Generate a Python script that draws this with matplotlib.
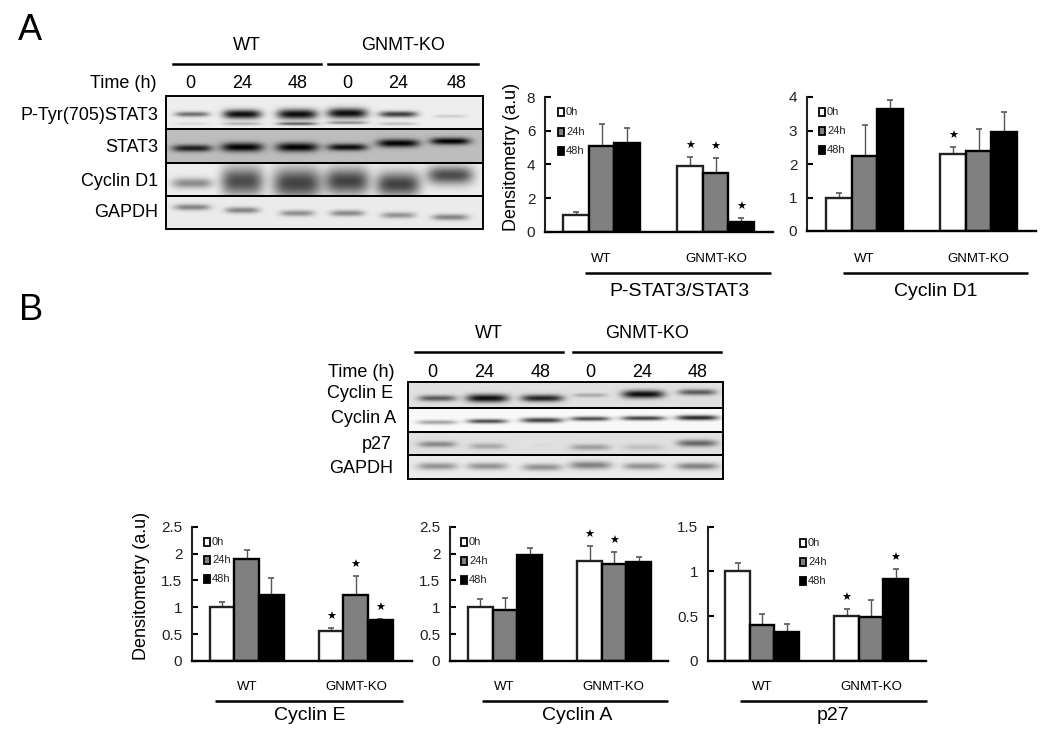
#!/usr/bin/env python3
"""Densitometry figure: western blots and bar panels, WT vs GNMT-KO."""
import numpy as np
import matplotlib

matplotlib.use("Agg")
import matplotlib.pyplot as plt
from matplotlib.patches import Rectangle

plt.rcParams["font.family"] = ["Liberation Sans", "DejaVu Sans"]

# bar data, order is 0h, 24h, 48h
stat3_wt = [1.0, 5.1, 5.3]
stat3_wt_err = [0.2, 1.3, 0.9]
stat3_ko = [3.9, 3.5, 0.55]
stat3_ko_err = [0.55, 0.9, 0.25]
stat3_stars = [1, 1, 1]

d1_wt = [1.0, 2.25, 3.65]
d1_wt_err = [0.13, 0.9, 0.25]
d1_ko = [2.3, 2.4, 2.97]
d1_ko_err = [0.2, 0.65, 0.58]
d1_stars = [1, 0, 0]

cyce_wt = [1.0, 1.9, 1.22]
cyce_wt_err = [0.1, 0.17, 0.33]
cyce_ko = [0.55, 1.23, 0.76]
cyce_ko_err = [0.07, 0.35, 0.02]
cyce_stars = [1, 1, 1]

cyca_wt = [1.0, 0.95, 1.98]
cyca_wt_err = [0.15, 0.23, 0.12]
cyca_ko = [1.86, 1.8, 1.84]
cyca_ko_err = [0.28, 0.23, 0.1]
cyca_stars = [1, 1, 0]

p27_wt = [1.0, 0.4, 0.32]
p27_wt_err = [0.1, 0.12, 0.09]
p27_ko = [0.5, 0.49, 0.92]
p27_ko_err = [0.08, 0.19, 0.11]
p27_stars = [1, 0, 1]

times = ["0", "24", "48"]
legend_labels = ["0h", "24h", "48h"]
bar_fills = ["white", "#808080", "black"]
bar_edges = ["#222222", "black", "black"]

# blot bands: darkness, thickness, and y of each of the six lanes
a_lanes = [192, 242, 297, 347, 398, 450]
a_halfw = [[17, 19, 20, 20, 19, 16], [20, 21, 21, 20, 21, 20],
           [20, 21, 24, 22, 22, 23], [18, 17, 17, 17, 17, 18]]
a_dark = [[0.55, 0.95, 0.95, 0.95, 0.75, 0.15],
          [0.85, 1.0, 1.0, 0.95, 1.0, 1.0],
          [0.42, 0.68, 0.72, 0.72, 0.72, 0.68],
          [0.45, 0.45, 0.4, 0.42, 0.38, 0.45]]
a_thick = [[2.5, 4.5, 5, 5, 3, 1.5], [3.5, 4.5, 4.5, 3.5, 4, 3.5],
           [5, 14, 15, 13, 12, 9], [3, 3, 3, 3, 3, 3]]
a_y = [[114, 114, 114, 113, 114, 116], [148, 147, 147, 147, 143, 141],
       [183, 181, 183, 181, 184, 175], [207, 210, 213, 213, 215, 217]]
a_bg = [0.93, 0.74, 0.93, 0.92]
a_rows = [96, 129, 163, 196, 229]
a_second_dark = [0.08, 0.25, 0.6, 0.4, 0.2, 0.0]

b_lanes = [437, 487, 542, 590, 643, 697]
b_halfw = [[19, 21, 21, 17, 21, 19], [20, 20, 21, 20, 22, 21],
           [19, 18, 10, 20, 20, 20], [20, 20, 20, 21, 20, 21]]
b_dark = [[0.6, 0.95, 0.85, 0.25, 0.95, 0.6],
          [0.35, 0.7, 0.75, 0.7, 0.75, 0.85],
          [0.4, 0.25, 0.03, 0.3, 0.15, 0.55],
          [0.38, 0.38, 0.38, 0.45, 0.38, 0.45]]
b_thick = [[3, 4, 3.5, 2, 4, 3], [2.2, 2.2, 2.5, 2.2, 2.2, 2.5],
           [3, 3, 2, 3, 3, 3.5], [3.5, 3.5, 3.5, 4, 3.5, 3.5]]
b_y = [[398, 398, 398, 395, 394, 392], [422, 421, 420, 418.5, 418, 417.5],
       [444, 446, 445, 447, 447, 443], [466, 466, 467, 465, 466, 466]]
b_bg = [0.88, 0.98, 0.88, 0.92]
b_rows = [382, 408, 432, 455, 479]


def draw_chart(fig, left, right, y0, ytop, ymax, yticks, ylabels, wt, wt_err, ko, ko_err, stars,
               wt_x, ko_x, bar_w):
    w, h = fig.get_size_inches() * fig.dpi
    ax = fig.add_axes([left / w, 1 - y0 / h, (right - left) / w, (y0 - ytop) / h])
    ax.patch.set_alpha(0)
    ax.set_xlim(left, right)
    ax.set_ylim(0, ymax)
    for start, vals, errs in [(wt_x, wt, wt_err), (ko_x, ko, ko_err)]:
        for i in range(3):
            x = start + i * bar_w
            ax.errorbar(x, vals[i], yerr=[[0], [errs[i]]], color="#555555", lw=1.0,
                        capsize=2.5, capthick=1.2, zorder=1)
            ax.bar(x, vals[i], width=bar_w, color=bar_fills[i], edgecolor=bar_edges[i], lw=1.7, zorder=2)
    for i in range(3):
        if stars[i]:
            ax.annotate("\u2605", (ko_x + i * bar_w, ko[i] + ko_err[i]), xytext=(0, 8), textcoords="offset points",
                        ha="center", va="center", fontsize=8, color="black", family=["DejaVu Sans"])
    ax.spines["top"].set_visible(False)
    ax.spines["right"].set_visible(False)
    ax.spines["left"].set_linewidth(1.5)
    ax.spines["bottom"].set_linewidth(1.7)
    ax.spines["left"].set_color("#222222")
    ax.set_xticks([])
    ax.set_yticks(yticks)
    ax.set_yticklabels(ylabels, fontsize=11, color="#222222")
    ax.tick_params(axis="y", direction="in", length=4, width=1.5, pad=7)
    return ax


def draw_labels(over, legend_x, legend_ys, wt_c, ko_c, label_y, line_x0, line_x1, line_y, title, title_x, title_y):
    for i in range(3):
        over.add_patch(Rectangle((legend_x - 2.7, legend_ys[i] - 4), 5.4, 8, facecolor=bar_fills[i],
                                 edgecolor="black", lw=1.3))
        over.text(legend_x + 5, legend_ys[i], legend_labels[i], fontsize=8, va="center", color="#222222")
    over.text(wt_c, label_y, "WT", fontsize=9.5, ha="center", va="center")
    over.text(ko_c, label_y, "GNMT-KO", fontsize=9.5, ha="center", va="center")
    over.plot([line_x0, line_x1], [line_y, line_y], color="black", lw=1.8, solid_capstyle="butt")
    over.text(title_x, title_y, title, fontsize=14, ha="center", va="center")


def band_image(x0, x1, y0, y1, lanes, halfw, dark, thick, ys, bg, second=None):
    yy, xx = np.mgrid[y0:y1:0.5, x0:x1:0.5]
    img = np.full(xx.shape, float(bg))
    absorb = np.zeros(xx.shape)
    for i, lane in enumerate(lanes):
        across = np.exp(-((xx - lane) / halfw[i]) ** 4)
        absorb += dark[i] * across * np.exp(-((yy - ys[i]) / thick[i]) ** 2)
        if second is not None:
            absorb += second[i] * across * np.exp(-((yy - ys[i] - 9.5) / 1.5) ** 2)
    return img * (1 - np.clip(absorb, 0, 1))


def draw_blot(over, x0, x1, rows, lanes, halfw, dark, thick, ys, bg, second=None):
    for r in range(len(rows) - 1):
        extra = second if r == 0 else None
        img = band_image(x0, x1, rows[r], rows[r + 1], lanes, halfw[r], dark[r], thick[r], ys[r], bg[r], extra)
        over.imshow(img, cmap="gray", vmin=0, vmax=1, extent=[x0, x1, rows[r + 1], rows[r]],
                    aspect="auto", interpolation="bilinear", zorder=1)
        over.add_patch(Rectangle((x0, rows[r]), x1 - x0, rows[r + 1] - rows[r], fill=False,
                                 edgecolor="black", lw=1.4, zorder=2))


def main():
    fig = plt.figure(figsize=(10.5, 7.35), dpi=100)
    over = fig.add_axes([0, 0, 1, 1])
    over.set_xlim(0, 1050)
    over.set_ylim(735, 0)
    over.axis("off")

    over.text(30, 30, "A", fontsize=26, ha="center", va="center")
    over.text(31, 310, "B", fontsize=26, ha="center", va="center")

    # panel A blot
    draw_blot(over, 166, 483, a_rows, a_lanes, a_halfw, a_dark, a_thick, a_y, a_bg, a_second_dark)
    over.set_xlim(0, 1050)
    over.set_ylim(735, 0)
    over.text(247, 45, "WT", fontsize=13, ha="center", va="center")
    over.text(403, 45, "GNMT-KO", fontsize=13, ha="center", va="center")
    over.plot([173, 321], [64, 64], color="black", lw=1.8)
    over.plot([328, 478], [64, 64], color="black", lw=1.8)
    over.text(157, 83, "Time (h)", fontsize=13, ha="right", va="center")
    for x, t in zip([190, 242, 298, 347, 398, 457], times + times):
        over.text(x, 83, t, fontsize=13, ha="center", va="center")
    for y, name in zip([115, 147, 181, 212], ["P-Tyr(705)STAT3", "STAT3", "Cyclin D1", "GAPDH"]):
        over.text(158, y, name, fontsize=13, ha="right", va="center")

    # panel B blot
    draw_blot(over, 408, 723, b_rows, b_lanes, b_halfw, b_dark, b_thick, b_y, b_bg)
    over.set_xlim(0, 1050)
    over.set_ylim(735, 0)
    over.text(489, 333, "WT", fontsize=13, ha="center", va="center")
    over.text(647, 333, "GNMT-KO", fontsize=13, ha="center", va="center")
    over.plot([415, 563], [352, 352], color="black", lw=1.8)
    over.plot([573, 721], [352, 352], color="black", lw=1.8)
    over.text(395, 372, "Time (h)", fontsize=13, ha="right", va="center")
    for x, t in zip([432, 484, 541, 590, 642, 698], times + times):
        over.text(x, 372, t, fontsize=13, ha="center", va="center")
    for y, r, name in zip([393, 418, 444, 468], [393, 396, 392, 393], ["Cyclin E", "Cyclin A", "p27", "GAPDH"]):
        over.text(r, y, name, fontsize=13, ha="right", va="center")

    # bar panels
    draw_chart(fig, 545, 773, 231.7, 97.3, 8, [0, 2, 4, 6, 8], ["0", "2", "4", "6", "8"],
               stat3_wt, stat3_wt_err, stat3_ko, stat3_ko_err, stat3_stars, 576, 690, 25.5)
    draw_labels(over, 561, [112, 132, 151], 601, 716, 259, 585, 771, 273, "P-STAT3/STAT3", 679, 291)
    over.text(512, 157, "Densitometry (a.u)", fontsize=13, rotation=90, ha="center", va="center")

    draw_chart(fig, 807, 1036, 231, 97, 4, [0, 1, 2, 3, 4], ["0", "1", "2", "3", "4"],
               d1_wt, d1_wt_err, d1_ko, d1_ko_err, d1_stars, 839, 953, 25.5)
    draw_labels(over, 822, [112, 131, 150], 864, 978, 259, 843, 1028, 273, "Cyclin D1", 936, 291)

    ticks_25 = [0, 0.5, 1, 1.5, 2, 2.5]
    labels_25 = ["0", "0.5", "1", "1.5", "2", "2.5"]
    draw_chart(fig, 192, 412, 661, 526.7, 2.5, ticks_25, labels_25,
               cyce_wt, cyce_wt_err, cyce_ko, cyce_ko_err, cyce_stars, 222, 331, 24.7)
    draw_labels(over, 207, [542, 560, 579], 247, 356, 687, 215, 403, 701, "Cyclin E", 310, 715)
    over.text(142, 586, "Densitometry (a.u)", fontsize=13, rotation=90, ha="center", va="center")

    draw_chart(fig, 450, 668, 661, 526.7, 2.5, ticks_25, labels_25,
               cyca_wt, cyca_wt_err, cyca_ko, cyca_ko_err, cyca_stars, 480.5, 589.5, 24.5)
    draw_labels(over, 464, [542, 561, 580], 504, 613, 687, 482, 668, 701, "Cyclin A", 577, 715)

    draw_chart(fig, 708, 926, 661, 526.7, 1.5, [0, 0.5, 1, 1.5], ["0", "0.5", "1", "1.5"],
               p27_wt, p27_wt_err, p27_ko, p27_ko_err, p27_stars, 737.5, 846.5, 24.5)
    draw_labels(over, 803, [543, 562, 581], 762, 871, 687, 740, 927, 701, "p27", 833, 715)

    over.set_xlim(0, 1050)
    over.set_ylim(735, 0)
    fig.savefig("out.png", dpi=100)
    plt.close(fig)


if __name__ == "__main__":
    main()
